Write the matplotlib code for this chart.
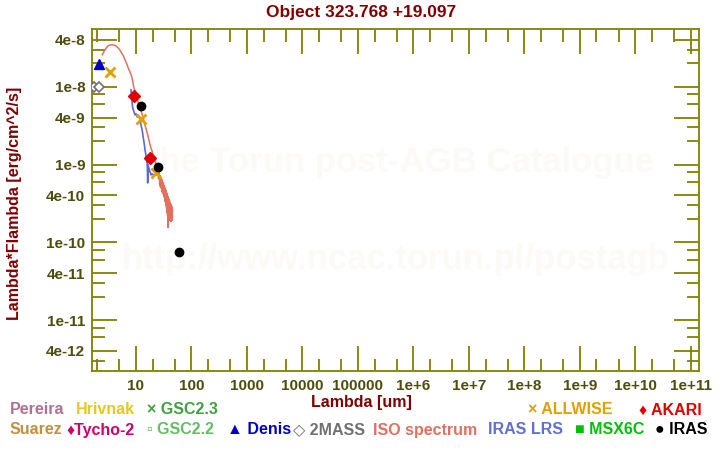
import matplotlib
matplotlib.use("Agg")
import matplotlib.pyplot as plt
from matplotlib.ticker import FixedLocator, NullFormatter

plt.rcParams["font.family"] = ["Liberation Sans", "DejaVu Sans"]
plt.rcParams["font.weight"] = "bold"

# ===============================
# DATA (wavelength in um, lambda*F_lambda in erg/cm^2/s)
# ===============================
iso_wave = [2.47, 2.62, 2.76, 2.95, 3.17, 3.40, 3.65, 3.90, 4.18, 4.48, 4.80, 5.15,
            5.52, 5.92, 6.34, 6.80, 7.26, 7.80, 8.37, 8.65, 8.94, 9.25, 9.59, 10.0,
            10.55, 11.1, 11.8, 12.5, 13.2, 13.8, 14.5, 15.3, 16.3, 17.0, 17.9, 18.8,
            20.0, 20.6, 21.3, 22.0, 22.9, 23.4, 23.8, 24.3, 24.9, 25.5, 25.9,
            26.3, 26.7, 27.1, 27.5, 27.9, 28.3, 28.7, 29.1, 29.5, 29.9, 30.3, 30.7,
            31.1, 31.5, 31.9, 32.3, 32.7, 33.1, 33.5, 33.9, 34.3, 34.7, 35.1, 35.5,
            35.9, 36.3, 36.7, 37.1, 37.5, 37.9, 38.3, 38.7, 39.1, 39.5, 39.9, 40.3,
            40.7, 41.1, 41.5, 41.9, 42.3, 42.7, 43.1, 43.5, 43.9, 44.3, 44.7, 45.1,
            45.5]
iso_flux = [2.58e-8, 2.80e-8, 2.99e-8, 3.20e-8, 3.37e-8, 3.45e-8, 3.47e-8, 3.46e-8,
            3.41e-8, 3.30e-8, 3.15e-8, 2.95e-8, 2.71e-8, 2.50e-8, 2.23e-8, 1.98e-8,
            1.74e-8, 1.55e-8, 1.36e-8, 1.22e-8, 1.06e-8, 9.6e-9, 8.7e-9, 7.8e-9,
            6.8e-9, 6.1e-9, 5.5e-9, 4.8e-9, 4.15e-9, 3.7e-9, 3.24e-9, 2.8e-9,
            2.41e-9, 2.1e-9, 1.79e-9, 1.6e-9, 1.40e-9, 1.22e-9, 1.28e-9, 1.10e-9,
            1.05e-9, 8.5e-10, 9.3e-10, 7.4e-10, 8.6e-10, 6.6e-10, 8.0e-10,
            7.8e-10, 5.6e-10, 7.2e-10, 5.2e-10, 6.9e-10, 5.0e-10, 6.6e-10, 4.6e-10,
            6.3e-10, 4.4e-10, 6.0e-10, 4.2e-10, 5.7e-10, 4.3e-10, 5.4e-10, 3.8e-10,
            5.2e-10, 3.4e-10, 4.9e-10, 3.3e-10, 4.7e-10, 3.0e-10, 4.5e-10, 2.8e-10,
            4.3e-10, 2.4e-10, 4.1e-10, 2.2e-10, 3.9e-10, 1.55e-10, 3.8e-10, 2.3e-10,
            3.6e-10, 2.0e-10, 3.5e-10, 2.5e-10, 3.3e-10, 1.9e-10, 3.2e-10, 2.1e-10,
            3.1e-10, 1.85e-10, 3.0e-10, 2.0e-10, 2.9e-10, 1.9e-10, 2.8e-10, 2.1e-10,
            2.6e-10]

lrs_wave = [8.13, 8.35, 8.58, 8.8, 9.1, 9.59, 10.0, 10.5, 11.0, 11.8, 12.2, 12.67,
            13.1, 13.54, 14.0, 14.53, 15.0, 15.59, 15.9, 16.26, 16.5, 16.8, 17.15,
            17.6, 18.1, 18.6, 19.5, 20.5]
lrs_flux = [9.15e-9, 7.5e-9, 5.86e-9, 5.2e-9, 4.9e-9, 4.36e-9, 4.5e-9, 4.1e-9,
            4.3e-9, 3.95e-9, 3.3e-9, 2.94e-9, 2.6e-9, 2.19e-9, 1.9e-9, 1.55e-9,
            1.35e-9, 1.09e-9, 1.15e-9, 5.8e-10, 9.9e-10, 9.3e-10, 9.0e-10, 8.2e-10,
            8.0e-10, 7.36e-10, 7.6e-10, 7.36e-10]

denis_wave = [2.15]
denis_flux = [1.98e-8]
twomass_wave = [1.75, 2.16]
twomass_flux = [1.0e-8, 1.0e-8]
allwise_wave = [3.44, 12.5, 22.8]
allwise_flux = [1.55e-8, 3.87e-9, 7.75e-10]
akari_wave = [9.3, 17.9]
akari_flux = [7.66e-9, 1.22e-9]
iras_wave = [12.5, 24.9, 60.0]
iras_flux = [5.69e-9, 9.33e-10, 7.46e-11]

x_ticks = [10, 1e2, 1e3, 1e4, 1e5, 1e6, 1e7, 1e8, 1e9, 1e10, 1e11]
x_labels = ["10", "100", "1000", "10000", "100000", "1e+6", "1e+7", "1e+8",
            "1e+9", "1e+10", "1e+11"]
y_ticks = [4e-8, 1e-8, 4e-9, 1e-9, 4e-10, 1e-10, 4e-11, 1e-11, 4e-12]
y_labels = ["4e-8", "1e-8", "4e-9", "1e-9", "4e-10", "1e-10", "4e-11", "1e-11", "4e-12"]

legend_rows = [
    [("Pereira", "#b07090", 10), ("Hrivnak", "#e6c81e", 76), ("\u00d7 GSC2.3", "#40a040", 147),
     ("\u00d7 ALLWISE", "#e0a000", 528), ("\u2666 AKARI", "#e00000", 639)],
    [("Suarez", "#c09040", 10), ("\u2666Tycho-2", "#d0006a", 66), ("\u25ab GSC2.2", "#60c060", 147),
     ("\u25b2 Denis", "#0000c0", 227), ("\u25c7 2MASS", "#707070", 293),
     ("ISO spectrum", "#e07060", 373), ("IRAS LRS", "#6070d0", 488),
     ("\u25a0 MSX6C", "#00c000", 575), ("\u25cf IRAS", "#000000", 655)],
]

# ===============================
# FIGURE
# ===============================
W, H = 720, 450
fig = plt.figure(figsize=(7.2, 4.5), dpi=100)
ax = fig.add_axes([92.3 / W, 1 - 371 / H, (699.3 - 92.3) / W, (371 - 29.3) / H])

ax.set_xscale("log")
ax.set_yscale("log")
ax.set_xlim(1.63, 1.43e11)
ax.set_ylim(2.21e-12, 5.49e-8)

# watermark
ax.text(0.5, 0.61, "The Torun post-AGB Catalogue", transform=ax.transAxes,
        ha="center", va="center", fontsize=25, color="#fcfaf7", zorder=0)
ax.text(0.5, 0.325, "http://www.ncac.torun.pl/postagb", transform=ax.transAxes,
        ha="center", va="center", fontsize=25, color="#fcfaf7", zorder=0)

ax.plot(iso_wave, iso_flux, color="#e07060", lw=1.1, zorder=2)
ax.plot(lrs_wave, lrs_flux, color="#5a6ad6", lw=1.2, zorder=3)

ax.plot(twomass_wave, twomass_flux, "D", ms=5, mfc="white", mec="#707070", mew=1.2, ls="none", zorder=4)
ax.plot(denis_wave, denis_flux, "^", ms=7, color="#0000c0", ls="none", zorder=4)
ax.plot(allwise_wave, allwise_flux, "x", ms=6.5, mew=2, color="#e0a000", ls="none", zorder=5)
ax.plot(akari_wave, akari_flux, "D", ms=6.5, color="#e00000", ls="none", zorder=5)
ax.plot(iras_wave, iras_flux, "o", ms=6, color="black", ls="none", zorder=6)

# axes styling
olive = "#808000"
for s in ax.spines.values():
    s.set_color(olive)
    s.set_linewidth(1.3)

ax.xaxis.set_major_locator(FixedLocator(x_ticks))
ax.set_xticklabels(x_labels)
x_minor = []
for e in range(0, 12):
    x_minor += [2 * 10 ** e, 5 * 10 ** e]
ax.xaxis.set_minor_locator(FixedLocator(x_minor))
ax.xaxis.set_minor_formatter(NullFormatter())

ax.yaxis.set_major_locator(FixedLocator(y_ticks))
ax.set_yticklabels(y_labels)
y_minor = []
for e in range(-13, -6):
    y_minor += [m * 10.0 ** e for m in (2, 3, 6, 8)]
ax.yaxis.set_minor_locator(FixedLocator(y_minor))
ax.yaxis.set_minor_formatter(NullFormatter())

ax.tick_params(which="both", direction="in", top=True, right=True, color=olive, width=1.3,
               labelcolor="#4d4d10", labelsize=11)
ax.tick_params(which="major", length=18)
ax.tick_params(which="minor", length=9)
ax.tick_params(axis="x", pad=6)
ax.tick_params(axis="y", pad=5)

# ===============================
# TEXTS
# ===============================
fig.text(361 / W, 1 - 12 / H, "Object 323.768 +19.097", ha="center", va="center",
         fontsize=12.5, color="#800000")
fig.text(361 / W, 1 - 403 / H, "Lambda [um]", ha="center", va="center",
         fontsize=11.5, color="#800000")
fig.text(15 / W, 1 - 203 / H, "Lambda*Flambda [erg/cm^2/s]", ha="center", va="center",
         rotation=90, fontsize=11.5, color="#800000")

for row_y, row in zip([410, 430], legend_rows):
    for label, col, x in row:
        fig.text(x / W, 1 - row_y / H, label, ha="left", va="center", fontsize=11.5, color=col)

fig.savefig("out.png", dpi=100)
